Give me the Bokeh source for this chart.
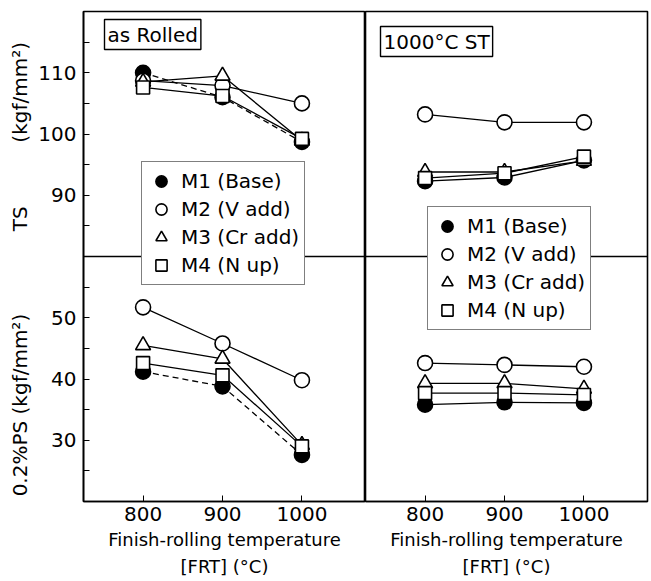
from bokeh.plotting import figure
from bokeh.models import Range1d, FixedTicker, Span, Label, Legend, LegendItem
from bokeh.layouts import row
from bokeh.embed import file_html
from bokeh.resources import INLINE

FONT = "DejaVu Sans"
NB = "\u00a0"

temps = [800, 900, 1000]
x_ticks = [800, 900, 1000]
ts_ticks = [90, 100, 110]
ps_ticks = [30, 40, 50]
series_names = ["M1 (Base)", "M2 (V add)", "M3 (Cr add)", "M4 (N up)"]
ts_label = "TS" + NB * 10 + "(kgf/mm²)"
ps_label = "0.2%PS (kgf/mm²)"

# as Rolled
ar_ts_m1 = [110.0, 106.0, 98.7]
ar_ts_m2 = [108.7, 107.9, 105.0]
ar_ts_m3 = [108.5, 109.5, 98.9]
ar_ts_m4 = [107.6, 106.2, 99.2]
ar_ps_m1 = [41.2, 38.8, 27.6]
ar_ps_m2 = [51.7, 45.8, 39.8]
ar_ps_m3 = [45.5, 43.3, 29.2]
ar_ps_m4 = [42.6, 40.6, 29.0]

# 1000C ST
st_ts_m1 = [92.3, 92.9, 95.7]
st_ts_m2 = [103.2, 101.9, 101.9]
st_ts_m3 = [93.8, 93.8, 95.6]
st_ts_m4 = [92.8, 93.6, 96.3]
st_ps_m1 = [35.8, 36.2, 36.1]
st_ps_m2 = [42.6, 42.3, 42.0]
st_ps_m3 = [39.3, 39.3, 38.4]
st_ps_m4 = [37.7, 37.7, 37.4]

MARK = [
    dict(marker="circle", fill_color="black", size=15),
    dict(marker="circle", fill_color="white", size=15),
    dict(marker="triangle", fill_color="white", size=15),
    dict(marker="square", fill_color="white", size=13),
]

H = 579
TOP = 11
BOT = 78


def make_panel(title, ts_data, ps_data, dashed_m1, left, width, legend_loc, title_pos):
    p = figure(width=width, height=H, output_backend="svg", toolbar_location=None,
               x_range=Range1d(725, 1080), y_range=Range1d(20, 100),
               min_border_left=left, min_border_right=(0 if left else 3),
               min_border_top=TOP, min_border_bottom=BOT,
               background_fill_color="white", border_fill_color="white")
    p.extra_y_ranges = {"ts": Range1d(40, 120)}
    p.outline_line_color = "black"
    p.outline_line_width = 1.6
    p.grid.visible = False

    xa = p.xaxis[0]
    xa.ticker = FixedTicker(ticks=x_ticks, minor_ticks=[])
    xa.major_tick_in = 6
    xa.major_tick_out = 0
    xa.axis_line_color = "black"
    xa.axis_line_width = 1.6
    xa.major_label_text_font = FONT
    xa.major_label_text_font_size = "20px"
    xa.major_label_text_color = "black"
    xa.major_label_standoff = 5
    xa.axis_label = "Finish-rolling temperature\n[FRT] (°C)"
    xa.axis_label_text_font = FONT
    xa.axis_label_text_font_size = "18px"
    xa.axis_label_text_font_style = "normal"
    xa.axis_label_text_color = "black"
    xa.axis_label_text_line_height = 1.3
    xa.axis_label_standoff = 5

    ya = p.yaxis[0]
    if left:
        offset = 20  # TS value -> shared vertical position
        ya.ticker = FixedTicker(ticks=ps_ticks + [t - offset for t in ts_ticks],
                                minor_ticks=[25, 35, 45, 55, 65, 75, 85, 95])
        ya.major_label_overrides = {t - offset: str(t) for t in ts_ticks}
        ya.major_tick_in = 6
        ya.major_tick_out = 0
        ya.minor_tick_in = 6
        ya.minor_tick_out = 0
        ya.axis_line_color = "black"
        ya.axis_line_width = 1.6
        ya.major_label_text_font = FONT
        ya.major_label_text_font_size = "20px"
        ya.major_label_text_color = "black"
        ya.major_label_standoff = 7
        ya.axis_label = ps_label + NB * 13 + ts_label + NB * 4
        ya.axis_label_text_font = FONT
        ya.axis_label_text_font_size = "20px"
        ya.axis_label_text_font_style = "normal"
        ya.axis_label_text_color = "black"
        ya.axis_label_standoff = 3
    else:
        ya.visible = False

    p.add_layout(Span(location=60, dimension="width", line_color="black", line_width=1.4))

    for i, (ts, ps) in enumerate(zip(ts_data, ps_data)):
        dash = "6 4" if (dashed_m1 and i == 0) else "solid"
        p.line(temps, ts, y_range_name="ts", line_color="black", line_width=1.3, line_dash=dash)
        p.line(temps, ps, line_color="black", line_width=1.3, line_dash=dash)
    rends = []
    for i, (ts, ps) in enumerate(zip(ts_data, ps_data)):
        m = MARK[i]
        r = p.scatter(temps, ts, y_range_name="ts", marker=m["marker"], size=m["size"],
                      fill_color=m["fill_color"], line_color="black", line_width=1.6)
        p.scatter(temps, ps, marker=m["marker"], size=m["size"],
                  fill_color=m["fill_color"], line_color="black", line_width=1.6)
        rends.append(r)
    legend_items = [LegendItem(label=n, renderers=[r]) for n, r in zip(series_names, rends)]

    leg = Legend(items=legend_items, location=legend_loc,
                 label_text_font=FONT, label_text_font_size="20px", label_text_color="black",
                 glyph_width=28, glyph_height=28, spacing=0, label_standoff=6,
                 padding=5, margin=0, border_line_color="black", border_line_width=1.4,
                 background_fill_color="white", background_fill_alpha=1.0, label_height=26)
    p.add_layout(leg, "center")

    p.add_layout(Label(x=title_pos[0], y=title_pos[1], x_units="screen", y_units="screen",
                       text=title, text_font=FONT, text_font_size="20px", text_color="black",
                       text_baseline="top", text_align="left", padding=3,
                       border_line_color="black", border_line_width=1.4,
                       background_fill_color="white"))
    return p


left = make_panel("as Rolled",
                  [ar_ts_m1, ar_ts_m2, ar_ts_m3, ar_ts_m4],
                  [ar_ps_m1, ar_ps_m2, ar_ps_m3, ar_ps_m4],
                  True, 83, 365, (58, 216), (21, 482))
right = make_panel("1000°C ST",
                   [st_ts_m1, st_ts_m2, st_ts_m3, st_ts_m4],
                   [st_ps_m1, st_ps_m2, st_ps_m3, st_ps_m4],
                   False, 0, 285, (62, 171), (15, 475))

layout = row(left, right)
open("out.html", "w").write(file_html(layout, INLINE))
